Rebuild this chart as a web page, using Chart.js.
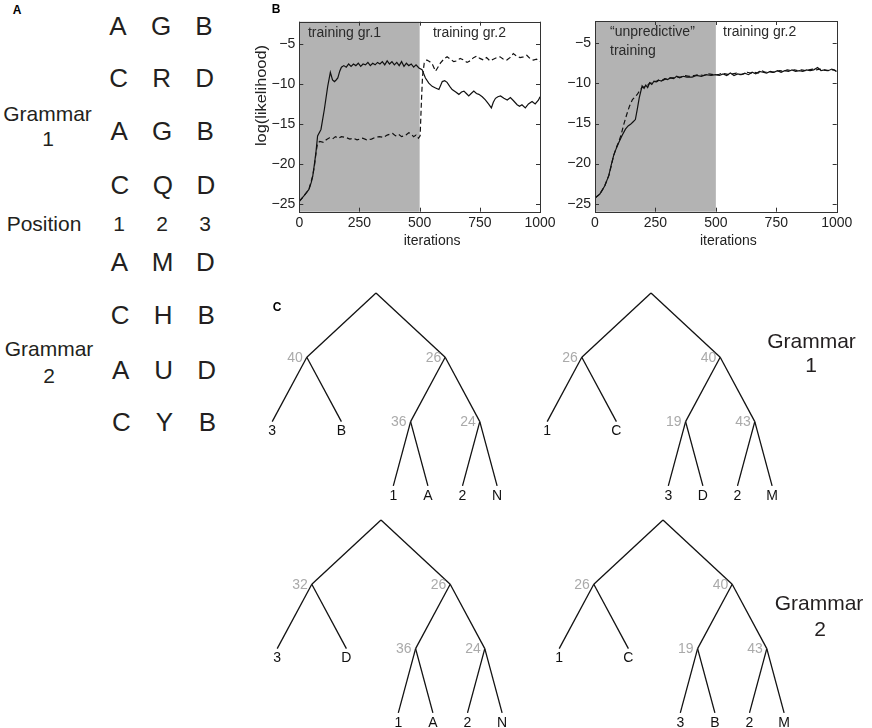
<!DOCTYPE html>
<html>
<head>
<meta charset="utf-8">
<script src="https://cdn.jsdelivr.net/npm/chart.js@4.4.1/dist/chart.umd.min.js"></script>
<style>
  body { margin: 0; width: 872px; height: 728px; position: relative; overflow: hidden; background: #fff;
         font-family: "Liberation Sans", Arial, sans-serif; color: #231f20; }
  canvas { position: absolute; }
  .t { position: absolute; transform: translate(-50%, -50%); white-space: nowrap; line-height: 1; }
  .big { font-size: 26px; }
  .mid { font-size: 21px; }
  .lab { font-size: 12px; font-weight: bold; color: #000; }
</style>
</head>
<body>
<canvas id="logl1" width="330" height="250" style="left:255px;top:0px;width:330px;height:250px"></canvas>
<canvas id="logl2" width="317" height="250" style="left:555px;top:0px;width:317px;height:250px"></canvas>
<canvas id="tree1" width="280" height="225" style="left:250px;top:279.7px;width:280px;height:225px"></canvas>
<canvas id="tree2" width="280" height="225" style="left:524.7px;top:279.7px;width:280px;height:225px"></canvas>
<canvas id="tree3" width="280" height="225" style="left:254.7px;top:507px;width:280px;height:225px"></canvas>
<canvas id="tree4" width="280" height="225" style="left:537.3px;top:507px;width:280px;height:225px"></canvas>
<div id="text"></div>
<script>
// ---- panel A: the letter strings ----
const grammar1Strings = [['A', 'G', 'B'], ['C', 'R', 'D'], ['A', 'G', 'B'], ['C', 'Q', 'D']];
const grammar2Strings = [['A', 'M', 'D'], ['C', 'H', 'B'], ['A', 'U', 'D'], ['C', 'Y', 'B']];
const positionLabels = ['1', '2', '3'];

// ---- panel B: log likelihood over training iterations ----
const xTicks = [0, 250, 500, 750, 1000];
const yTicks = [-25, -20, -15, -10, -5];
const yRange = [-26, -2.2];
const shadeIter = [0, 500];

const b1SolidIter = [0, 20, 40, 50, 56, 63, 69, 76, 90, 104, 118, 129, 138, 146, 153, 160, 168, 175, 185, 195,
  205, 215, 225, 235, 245, 255, 265, 275, 285, 295, 305, 315, 325, 335, 345, 355, 365, 375, 385, 395,
  405, 415, 425, 435, 445, 455, 465, 475, 485, 497, 510, 524, 538, 552, 566, 580, 594, 604, 614, 625,
  635, 650, 663, 674, 684, 694, 704, 714, 725, 736, 746, 760, 773, 786, 798, 806, 815, 825, 836, 850,
  864, 877, 890, 905, 915, 925, 939, 952, 967, 980, 994, 1000];
const b1SolidLogL = [-24.7, -24.0, -23.2, -22.3, -21.5, -20.0, -18.6, -16.5, -15.7, -13.2, -10.3, -8.55, -9.5, -9.7, -9.5, -9.25, -8.4, -7.9, -7.7, -7.9,
  -7.5, -7.8, -7.5, -7.7, -7.4, -7.8, -7.5, -7.6, -7.3, -7.7, -7.4, -7.6, -7.3, -7.5, -7.2, -7.6, -7.1, -7.5, -7.2, -7.6,
  -7.3, -7.7, -7.2, -7.8, -7.4, -7.7, -7.5, -7.9, -7.6, -8.0, -8.2, -9.25, -9.9, -10.3, -10.5, -10.7, -9.7, -9.6, -9.8, -10.3,
  -10.7, -11.0, -11.3, -11.0, -10.9, -11.2, -11.5, -11.2, -10.9, -11.2, -11.3, -11.6, -12.0, -12.5, -13.0, -12.3, -11.8, -11.6, -11.5, -11.8,
  -12.0, -11.7, -12.1, -12.6, -12.8, -12.6, -13.0, -12.5, -12.2, -12.5, -12.0, -11.6];

const b1DashIter = [0, 20, 40, 56, 63, 70, 76, 85, 100, 112, 125, 138, 150, 162, 175, 194, 210, 225, 240, 263,
  280, 300, 315, 332, 350, 365, 375, 388, 400, 412, 425, 443, 455, 465, 475, 485, 495, 502, 507, 512,
  519, 530, 542, 554, 566, 576, 586, 600, 614, 628, 642, 655, 668, 683, 697, 710, 724, 737, 750, 765,
  778, 792, 806, 820, 834, 848, 862, 875, 889, 903, 917, 931, 945, 958, 972, 986, 1000];
const b1DashLogL = [-24.7, -24.0, -23.2, -21.5, -20.2, -18.5, -17.4, -17.2, -17.3, -17.0, -16.75, -16.9, -16.6, -16.8, -16.6, -16.7, -16.9, -16.8, -17.0, -16.8,
  -17.0, -16.9, -16.7, -16.6, -16.7, -16.4, -16.3, -16.2, -16.5, -16.3, -16.6, -16.4, -16.1, -16.3, -16.6, -16.4, -16.8, -16.5, -12.5, -9.0,
  -7.4, -7.0, -7.2, -7.6, -8.4, -7.9, -7.4, -6.9, -6.6, -6.9, -7.2, -7.1, -6.8, -7.0, -7.3, -7.1, -6.7, -6.5, -6.8, -7.0,
  -6.7, -7.1, -6.9, -6.7, -6.6, -6.9, -7.0, -6.7, -6.2, -6.5, -6.7, -6.6, -6.4, -6.8, -7.0, -6.9, -7.2];

const b2SolidIter = [0, 20, 40, 57, 67, 77, 88, 98, 112, 126, 137, 147, 157, 167, 175, 183, 195, 203, 210, 218,
  226, 235, 244, 255, 264, 275, 288, 300, 312, 325, 338, 350, 365, 380, 402, 420, 440, 460, 480, 498,
  515, 530, 545, 560, 575, 590, 605, 620, 635, 650, 665, 680, 695, 710, 725, 740, 755, 770, 785, 800,
  815, 830, 845, 860, 875, 890, 905, 921, 935, 950, 965, 980, 1000];
const b2SolidLogL = [-24.3, -23.8, -22.8, -21.5, -20.2, -19.0, -18.1, -17.4, -16.5, -15.7, -15.3, -15.1, -14.8, -14.5, -13.2, -11.8, -10.3, -10.6, -10.2, -10.5,
  -9.9, -10.1, -9.7, -9.8, -9.6, -9.7, -9.4, -9.5, -9.3, -9.4, -9.1, -9.3, -9.1, -9.2, -9.2, -9.0, -9.1, -8.9, -9.0, -8.9,
  -9.0, -8.8, -9.0, -8.7, -9.0, -8.8, -8.9, -8.7, -8.9, -8.6, -8.8, -8.5, -8.6, -8.7, -8.5, -8.6, -8.4, -8.6, -8.4, -8.5,
  -8.3, -8.5, -8.4, -8.5, -8.3, -8.4, -8.3, -8.0, -8.4, -8.3, -8.4, -8.2, -8.5];

const b2DashIter = [0, 20, 40, 57, 67, 77, 88, 98, 108, 120, 132, 143, 155, 165, 174, 185, 195, 205, 215, 225,
  235, 245, 255, 268, 280, 295, 310, 325, 340, 355, 370, 390, 410, 430, 450, 470, 490, 510, 525, 540,
  555, 570, 585, 600, 615, 630, 645, 660, 675, 690, 705, 720, 735, 750, 765, 780, 795, 810, 825, 840,
  855, 870, 885, 900, 915, 930, 945, 960, 975, 990, 1000];
const b2DashLogL = [-24.3, -23.8, -22.8, -21.5, -20.3, -19.0, -18.0, -17.3, -16.4, -15.0, -13.8, -12.8, -12.0, -11.7, -11.4, -10.9, -10.5, -10.4, -10.3, -10.0,
  -9.9, -9.8, -9.7, -9.5, -9.6, -9.4, -9.3, -9.3, -9.2, -9.2, -9.0, -9.1, -9.0, -8.9, -9.0, -8.8, -8.9, -8.9, -8.7, -8.8,
  -8.9, -8.8, -8.7, -8.9, -8.8, -8.6, -8.7, -8.6, -8.7, -8.4, -8.6, -8.5, -8.6, -8.5, -8.4, -8.5, -8.3, -8.4, -8.3, -8.4,
  -8.3, -8.4, -8.3, -8.2, -8.3, -8.2, -8.3, -8.4, -8.3, -8.3, -8.5];

// ---- panel C: the four trees (weights: left, right, right-left, right-right) ----
const tree1Weights = [40, 26, 36, 24];
const tree1Leaves = ['3', 'B', '1', 'A', '2', 'N'];
const tree2Weights = [26, 40, 19, 43];
const tree2Leaves = ['1', 'C', '3', 'D', '2', 'M'];
const tree3Weights = [32, 26, 36, 24];
const tree3Leaves = ['3', 'D', '1', 'A', '2', 'N'];
const tree4Weights = [26, 40, 19, 43];
const tree4Leaves = ['1', 'C', '3', 'B', '2', 'M'];

const FONT = '"Liberation Sans", Arial, sans-serif';
Chart.defaults.font.family = FONT;
Chart.defaults.color = '#222';

// ---------- html text (panel A, labels) ----------
const textBox = document.getElementById('text');
const put = (txt, x, y, cls) => {
  const d = document.createElement('div');
  d.className = 't ' + cls;
  d.style.left = x + 'px';
  d.style.top = y + 'px';
  d.textContent = txt;
  textBox.appendChild(d);
};
const colX = [118, 161, 204];
const rowsG1 = [26, 78, 131, 185];
const rowsG2 = [262, 315, 370, 422];
grammar1Strings.forEach((row, r) => row.forEach((ch, c) => put(ch, colX[c] + r * 0.6, rowsG1[r], 'big')));
grammar2Strings.forEach((row, r) => row.forEach((ch, c) => put(ch, colX[c] + 1.5 + r * 0.6, rowsG2[r], 'big')));
positionLabels.forEach((p, c) => put(p, colX[c] + 1, 223, 'mid'));
put('Grammar', 47.5, 113, 'mid'); put('1', 48, 138, 'mid');
put('Position', 44, 223, 'mid');
put('Grammar', 49, 348, 'mid'); put('2', 49, 375, 'mid');
put('Grammar', 811.5, 340, 'mid'); put('1', 811, 364, 'mid');
put('Grammar', 819, 602, 'mid'); put('2', 820, 628, 'mid');
put('A', 17, 10, 'lab'); put('B', 276, 9, 'lab'); put('C', 277, 307, 'lab');

// ---------- panel B ----------
const minus = v => String(v).replace('-', '\u2212');

const panelB = cfg => ({
  id: 'panelB',
  beforeDatasetsDraw(chart) {
    const {ctx, chartArea: a, scales: {x, y}} = chart;
    ctx.save();
    const x0 = x.getPixelForValue(shadeIter[0]);
    const x1 = x.getPixelForValue(shadeIter[1]);
    ctx.fillStyle = '#b3b3b3';
    ctx.fillRect(x0, a.top, x1 - x0, a.bottom - a.top);
    ctx.fillStyle = '#2a2a2a';
    ctx.font = '14px ' + FONT;
    ctx.textBaseline = 'middle';
    cfg.notes.forEach(n => n.lines.forEach((line, i) =>
      ctx.fillText(line, x.getPixelForValue(n.x), y.getPixelForValue(n.y) + i * 19)));
    ctx.restore();
  },
  afterDraw(chart) {
    const {ctx, chartArea: a, scales: {x, y}} = chart;
    ctx.save();
    ctx.strokeStyle = '#333';
    ctx.lineWidth = 1;
    ctx.strokeRect(Math.round(a.left) + 0.5, Math.round(a.top) + 0.5,
      Math.round(a.right - a.left), Math.round(a.bottom - a.top));
    ctx.beginPath();
    x.ticks.forEach(t => {
      const px = Math.round(x.getPixelForValue(t.value)) + 0.5;
      ctx.moveTo(px, a.bottom); ctx.lineTo(px, a.bottom - 4);
      ctx.moveTo(px, a.top); ctx.lineTo(px, a.top + 4);
    });
    y.ticks.forEach(t => {
      const py = Math.round(y.getPixelForValue(t.value)) + 0.5;
      ctx.moveTo(a.left, py); ctx.lineTo(a.left + 4, py);
      ctx.moveTo(a.right, py); ctx.lineTo(a.right - 4, py);
    });
    ctx.stroke();
    ctx.fillStyle = '#222';
    ctx.font = '14px ' + FONT;
    ctx.textAlign = 'center';
    ctx.textBaseline = 'middle';
    ctx.fillText('iterations', (a.left + a.right) / 2 + 12.5, a.bottom + 29);
    if (cfg.yTitle) {
      ctx.translate(a.left - 36.8, 95.5);
      ctx.rotate(-Math.PI / 2);
      ctx.scale(1.17, 1);
      ctx.fillText(cfg.yTitle, 0, 0);
    }
    ctx.restore();
  }
});

function drawLogL(id, series, cfg) {
  new Chart(document.getElementById(id), {
    type: 'scatter',
    data: {
      datasets: series.map(s => ({
        data: s.iter.map((v, i) => ({x: v, y: s.logL[i]})),
        showLine: true,
        borderColor: '#111',
        borderWidth: 1.2,
        borderDash: s.dash ? [5, 3] : [],
        pointRadius: 0
      }))
    },
    options: {
      responsive: false,
      animation: false,
      events: [],
      layout: {padding: {left: 0, top: cfg.top, right: cfg.right, bottom: 0}},
      scales: {
        x: {
          type: 'linear', min: 0, max: 1000,
          grid: {display: false, drawTicks: false},
          border: {display: false},
          afterBuildTicks: s => { s.ticks = xTicks.map(v => ({value: v})); },
          afterFit: s => { s.height = cfg.axisH; },
          ticks: {padding: 3, maxRotation: 0, autoSkip: false, font: {size: 14}, callback: v => String(v)}
        },
        y: {
          type: 'linear', min: yRange[0], max: yRange[1],
          grid: {display: false, drawTicks: false},
          border: {display: false},
          afterBuildTicks: s => { s.ticks = yTicks.map(v => ({value: v})); },
          afterFit: s => { s.width = cfg.axisW; },
          ticks: {padding: 4, autoSkip: false, font: {size: 14}, callback: v => minus(v)}
        }
      },
      plugins: {legend: {display: false}, tooltip: {enabled: false}}
    },
    plugins: [panelB(cfg)]
  });
}

drawLogL('logl1', [
  {iter: b1DashIter, logL: b1DashLogL, dash: true},
  {iter: b1SolidIter, logL: b1SolidLogL}
], {
  axisW: 44.3, axisH: 38.3, top: 21.7, right: 45, yTitle: 'log(likelihood)',
  notes: [{x: 36, y: -3.6, lines: ['training gr.1']}, {x: 555, y: -3.6, lines: ['training gr.2']}]
});

drawLogL('logl2', [
  {iter: b2DashIter, logL: b2DashLogL, dash: true},
  {iter: b2SolidIter, logL: b2SolidLogL}
], {
  axisW: 40, axisH: 38.3, top: 21, right: 35.3,
  notes: [{x: 62, y: -3.6, lines: ['\u201cunpredictive\u201d', 'training']}, {x: 530, y: -3.6, lines: ['training gr.2']}]
});

// ---------- panel C ----------
const TREE_W = 280, TREE_H = 225, ROOT_X = 126, ROOT_Y = 13, UNIT_X = 17.3, UNIT_Y = 64.3;

function treeLayout(weights, leaves) {
  // same topology for all four trees
  const tree = {kids: [
    {w: weights[0], kids: [{leaf: leaves[0]}, {leaf: leaves[1]}]},
    {w: weights[1], kids: [
      {w: weights[2], kids: [{leaf: leaves[2]}, {leaf: leaves[3]}]},
      {w: weights[3], kids: [{leaf: leaves[4]}, {leaf: leaves[5]}]}
    ]}
  ]};
  const nodes = [], edges = [];
  const place = (n, x, depth, spread) => {
    n.x = x; n.y = depth;
    nodes.push(n);
    (n.kids || []).forEach((k, i) => {
      place(k, x + (i ? spread : -spread), depth + 1, spread / 2);
      edges.push([n, k]);
    });
  };
  place(tree, 0, 0, 4);
  return {nodes, edges};
}

function drawTree(id, weights, leaves) {
  const {nodes, edges} = treeLayout(weights, leaves);
  new Chart(document.getElementById(id), {
    type: 'scatter',
    data: {
      datasets: edges.map(([p, c]) => ({
        data: [{x: p.x, y: p.y}, {x: c.x, y: c.y}],
        showLine: true, borderColor: '#111', borderWidth: 1.3, pointRadius: 0
      }))
    },
    options: {
      responsive: false,
      animation: false,
      events: [],
      layout: {padding: 0},
      scales: {
        x: {type: 'linear', display: false, min: -ROOT_X / UNIT_X, max: (TREE_W - ROOT_X) / UNIT_X},
        y: {type: 'linear', display: false, reverse: true, min: -ROOT_Y / UNIT_Y, max: (TREE_H - ROOT_Y) / UNIT_Y}
      },
      plugins: {legend: {display: false}, tooltip: {enabled: false}}
    },
    plugins: [{
      id: 'treeLabels',
      afterDatasetsDraw(chart) {
        const {ctx, scales: {x, y}} = chart;
        ctx.save();
        ctx.font = '14px ' + FONT;
        nodes.forEach(n => {
          const px = x.getPixelForValue(n.x), py = y.getPixelForValue(n.y);
          if (n.leaf) {
            ctx.fillStyle = '#111';
            ctx.textAlign = 'center';
            ctx.textBaseline = 'top';
            ctx.fillText(n.leaf, px, py + 3);
          } else if (n.w != null) {
            ctx.fillStyle = '#aaa';
            ctx.textAlign = 'right';
            ctx.textBaseline = 'middle';
            ctx.fillText(String(n.w), px - 4, py + 1);
          }
        });
        ctx.restore();
      }
    }]
  });
}

drawTree('tree1', tree1Weights, tree1Leaves);
drawTree('tree2', tree2Weights, tree2Leaves);
drawTree('tree3', tree3Weights, tree3Leaves);
drawTree('tree4', tree4Weights, tree4Leaves);
</script>
</body>
</html>
